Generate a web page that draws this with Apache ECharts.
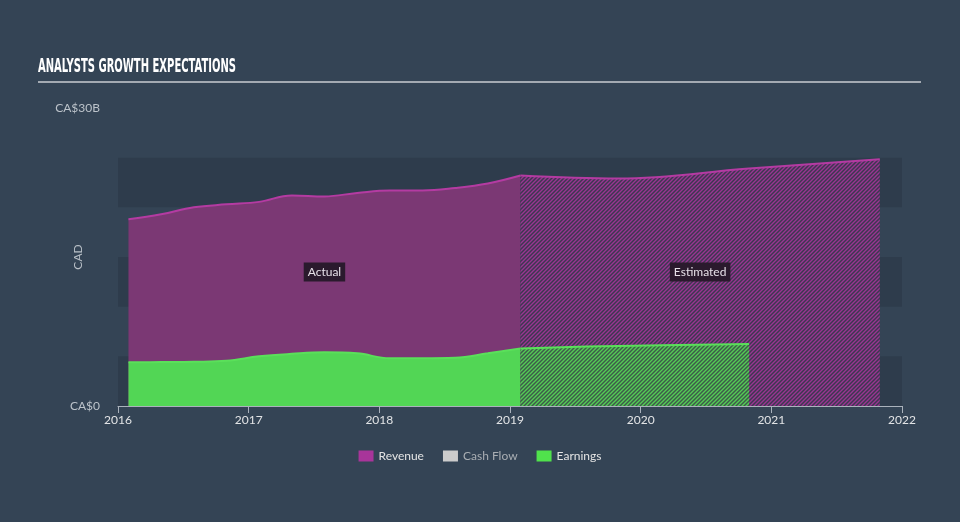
<!DOCTYPE html>
<html>
<head>
<meta charset="utf-8">
<script src="https://cdn.jsdelivr.net/npm/echarts@6/dist/echarts.min.js"></script>
<style>
html,body{margin:0;padding:0;background:#344455;}
#c{width:960px;height:522px;}
</style>
</head>
<body>
<div id="c"></div>
<script>
// ---- data (decimal years, CA$ billions) ----
const actualDates = [2016.08, 2016.33, 2016.58, 2016.83, 2017.08, 2017.33, 2017.58, 2017.83, 2018.08, 2018.33, 2018.58, 2018.83, 2019.08];
const revenueActual = [18.8, 19.3, 20.0, 20.3, 20.55, 21.2, 21.1, 21.45, 21.7, 21.7, 21.95, 22.4, 23.2];
const earningsActual = [4.40, 4.42, 4.45, 4.55, 5.0, 5.25, 5.4, 5.3, 4.8, 4.8, 4.85, 5.3, 5.8];
const revenueEstDates = [2019.08, 2019.83, 2020.83, 2021.83];
const revenueEstimate = [23.2, 22.9, 23.9, 24.85];
const earningsEstDates = [2019.08, 2019.83, 2020.83];
const earningsEstimate = [5.8, 6.05, 6.25];
const yTickLabels = {0: 'CA$0', 30: 'CA$30B'};
const legendNames = ['Revenue', 'Cash Flow', 'Earnings'];
const periodLabels = ['Actual', 'Estimated'];
const periodLabelLevel = 13.5;

function pairs(xs, ys) { return xs.map((x, i) => [x, ys[i]]); }

function hatch(bg, fg) {
  const s = 4;
  const cv = document.createElement('canvas');
  cv.width = s; cv.height = s;
  const g = cv.getContext('2d');
  g.fillStyle = bg; g.fillRect(0, 0, s, s);
  g.strokeStyle = fg; g.lineWidth = 1.4;
  g.beginPath();
  g.moveTo(-1, s + 1); g.lineTo(s + 1, -1);
  g.moveTo(-1, 1); g.lineTo(1, -1);
  g.moveTo(s - 1, s + 1); g.lineTo(s + 1, s - 1);
  g.stroke();
  return cv;
}

const FONT = 'Lato, "Noto Sans", sans-serif';
const revLine = '#b43ba2';
const revFill = '#7b3874';
const earnLine = '#5ae05a';
const earnFill = '#52d655';

const chart = echarts.init(document.getElementById('c'), null, {renderer: 'canvas'});
const actualStart = actualDates[0];
const actualEnd = actualDates[actualDates.length - 1];
const estEnd = revenueEstDates[revenueEstDates.length - 1];
const periodPoints = [
  {name: periodLabels[0], value: [(actualStart + actualEnd) / 2, periodLabelLevel]},
  {name: periodLabels[1], value: [(actualEnd + estEnd) / 2, periodLabelLevel]}
];

chart.setOption({
  backgroundColor: '#344455',
  animation: false,
  grid: {left: 118, right: 58, top: 108, bottom: 116},
  graphic: [
    {type: 'text', left: 38, top: 58, scaleX: 0.585,
     style: {text: 'ANALYSTS GROWTH EXPECTATIONS', fill: '#ffffff',
             font: 'bold 19px "Liberation Sans Narrow", "DejaVu Sans Condensed", sans-serif'}},
    {type: 'rect', left: 38, top: 81, shape: {width: 883, height: 2}, style: {fill: '#a3aab2'}}
  ],
  legend: {
    bottom: 55, left: 'center', itemWidth: 15, itemHeight: 11, itemGap: 19,
    icon: 'rect',
    textStyle: {color: '#e4e4e4', fontFamily: FONT, fontSize: 12},
    data: [
      {name: legendNames[0]},
      {name: legendNames[1], textStyle: {color: '#a9aeb3'}},
      {name: legendNames[2]}
    ]
  },
  xAxis: {
    type: 'value', min: 2016, max: 2022, interval: 1,
    axisLine: {show: true, lineStyle: {color: '#aab2bc', width: 1}},
    axisTick: {show: true, length: 7, lineStyle: {color: '#aab2bc'}},
    axisLabel: {color: '#e2e4e6', fontFamily: FONT, fontSize: 12, margin: 8,
                formatter: v => String(Math.round(v))},
    splitLine: {show: false}
  },
  yAxis: {
    type: 'value', min: 0, max: 30, interval: 5,
    name: 'CAD', nameLocation: 'middle', nameGap: 34, nameRotate: 90, nameMoveOverlap: false,
    nameTextStyle: {color: '#b9c0c7', fontFamily: FONT, fontSize: 12},
    axisLine: {show: false}, axisTick: {show: false},
    axisLabel: {color: '#bcc3ca', fontFamily: FONT, fontSize: 12, margin: 18,
                formatter: v => yTickLabels[v] || ''},
    splitLine: {show: false},
    splitArea: {show: true, areaStyle: {color: ['#2e3c4c', 'rgba(0,0,0,0)']}}
  },
  series: [
    {
      name: 'Revenue', type: 'line', smooth: 0.4, symbol: 'none',
      data: pairs(actualDates, revenueActual),
      itemStyle: {color: '#a8359a'},
      lineStyle: {color: revLine, width: 2},
      areaStyle: {color: revFill, opacity: 1}
    },
    {
      name: 'Revenue', type: 'line', smooth: 0.4, symbol: 'none',
      data: pairs(revenueEstDates, revenueEstimate),
      itemStyle: {color: '#a8359a'},
      lineStyle: {color: revLine, width: 2},
      areaStyle: {color: {image: hatch('#3c3750', '#9a3592'), repeat: 'repeat'}, opacity: 1}
    },
    {
      name: 'Cash Flow', type: 'line', symbol: 'none', data: [],
      itemStyle: {color: '#cccccc'}
    },
    {
      name: 'Earnings', type: 'line', smooth: 0.4, symbol: 'none',
      data: pairs(actualDates, earningsActual),
      itemStyle: {color: '#50e24c'},
      lineStyle: {color: earnLine, width: 2},
      areaStyle: {color: earnFill, opacity: 1}
    },
    {
      name: 'Earnings', type: 'line', smooth: 0.4, symbol: 'none',
      data: pairs(earningsEstDates, earningsEstimate),
      itemStyle: {color: '#50e24c'},
      lineStyle: {color: earnLine, width: 2},
      areaStyle: {color: {image: hatch('#3d5a4a', '#54cc55'), repeat: 'repeat'}, opacity: 1}
    },
    {
      name: 'periods', type: 'scatter', z: 20, silent: true,
      symbol: 'rect', symbolSize: 2, itemStyle: {color: '#2a1a2d'},
      data: periodPoints,
      label: {
        show: true, position: 'inside', formatter: '{b}', opacity: 1,
        color: '#e6e0e8', fontFamily: FONT, fontSize: 12,
        backgroundColor: '#2a1a2d', padding: [4, 4, 3, 4]
      }
    }
  ]
});
</script>
</body>
</html>
